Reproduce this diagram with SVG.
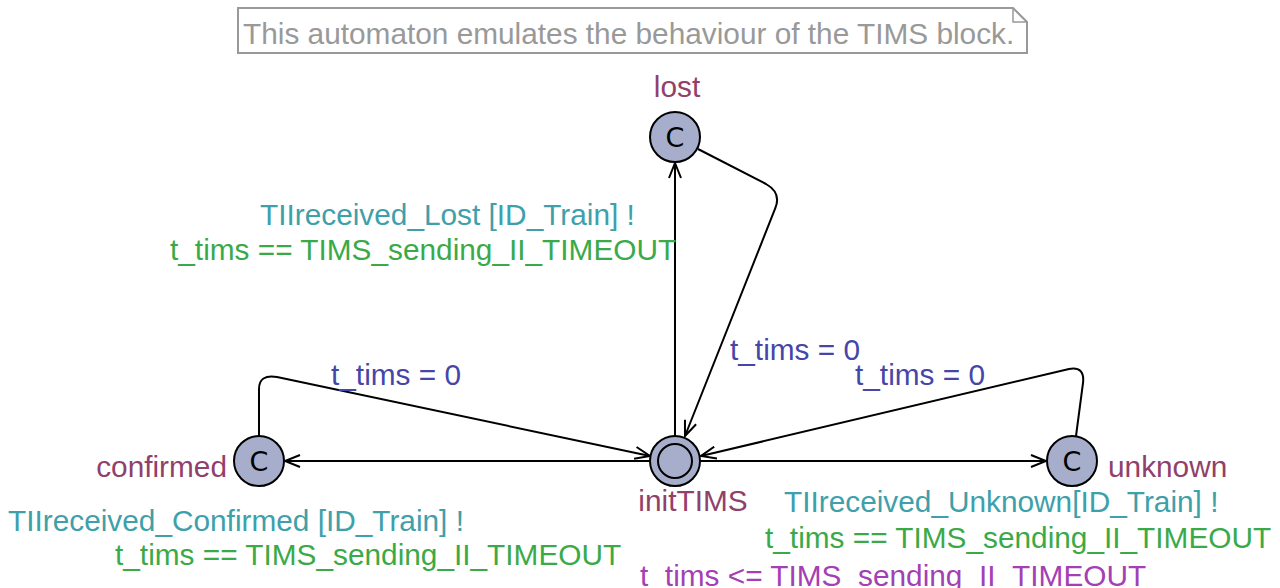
<svg xmlns="http://www.w3.org/2000/svg" width="1280" height="588" viewBox="0 0 1280 588">
<style>
text{font-family:"Liberation Sans",Arial,sans-serif;font-size:29.8px}
.loc{fill:#a7aecb;stroke:#000;stroke-width:2}
.nm{fill:#913f6b}
.sync{fill:#3ea0aa}
.guard{fill:#3aaa48}
.asg{fill:#4646a8}
.inv{fill:#a43fb4}
.c{font-family:"DejaVu Sans","Liberation Sans",sans-serif;font-size:27px;fill:#000}
.e{fill:none;stroke:#000;stroke-width:2;marker-end:url(#ah)}
</style>
<defs>
<marker id="ah" markerWidth="18" markerHeight="14" refX="16" refY="7" orient="auto" markerUnits="userSpaceOnUse">
<path d="M1,1 L16,7 L1,13" fill="none" stroke="#000" stroke-width="2"/>
</marker>
</defs>
<rect width="1280" height="588" fill="#fff"/>
<g id="note">
<path d="M238,8 H1013 L1027,22 V53 H238 Z" fill="#fff" stroke="#999" stroke-width="2"/>
<path d="M1013,8 V22 H1027" fill="none" stroke="#999" stroke-width="1.5"/>
<text x="243" y="44" fill="#999">This automaton emulates the behaviour of the TIMS block.</text>
</g>
<g id="connectors">
<g id="e-init-lost">
<path class="e" d="M675,436 V163"/>
<text class="sync" x="260" y="225">TIIreceived_Lost [ID_Train] !</text>
<text class="guard" x="170" y="260">t_tims == TIMS_sending_II_TIMEOUT</text>
</g>
<g id="e-lost-init">
<path class="e" d="M698,149 L766,184 Q782,193 775,209 L685,436"/>
<text class="asg" x="730" y="360">t_tims = 0</text>
</g>
<g id="e-confirmed-init">
<path class="e" d="M259,436 V389 Q259,374 277,377 L650,456"/>
<text class="asg" x="331" y="385">t_tims = 0</text>
</g>
<g id="e-init-confirmed">
<path class="e" d="M650,461 H285"/>
<text class="sync" x="8" y="531">TIIreceived_Confirmed [ID_Train] !</text>
<text class="guard" x="115" y="565">t_tims == TIMS_sending_II_TIMEOUT</text>
</g>
<g id="e-init-unknown">
<path class="e" d="M700,461 H1046"/>
<text class="sync" x="784" y="512">TIIreceived_Unknown[ID_Train] !</text>
<text class="guard" x="765" y="548">t_tims == TIMS_sending_II_TIMEOUT</text>
</g>
<g id="e-unknown-init">
<path class="e" d="M1076,436 L1083,383 Q1085,366 1069,369 L701,456"/>
<text class="asg" x="855" y="385">t_tims = 0</text>
</g>
</g>
<g id="lost">
<circle class="loc" cx="675" cy="137" r="25"/>
<text class="c" x="675" y="147" text-anchor="middle">C</text>
<text class="nm" x="677" y="97" text-anchor="middle">lost</text>
</g>
<g id="initTIMS">
<circle class="loc" cx="675" cy="461" r="25"/>
<circle cx="675" cy="461" r="17" fill="none" stroke="#000" stroke-width="2"/>
<text class="nm" x="693" y="511" text-anchor="middle">initTIMS</text>
<text class="inv" x="640" y="586">t_tims &lt;= TIMS_sending_II_TIMEOUT</text>
</g>
<g id="confirmed">
<circle class="loc" cx="259" cy="461" r="25"/>
<text class="c" x="259" y="471" text-anchor="middle">C</text>
<text class="nm" x="227" y="477" text-anchor="end">confirmed</text>
</g>
<g id="unknown">
<circle class="loc" cx="1072" cy="461" r="25"/>
<text class="c" x="1072" y="471" text-anchor="middle">C</text>
<text class="nm" x="1108" y="477">unknown</text>
</g>
</svg>
